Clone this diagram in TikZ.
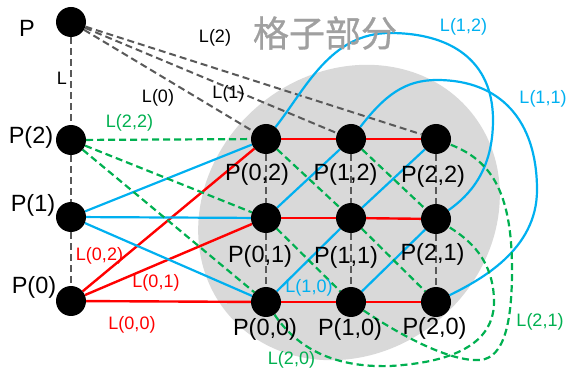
\documentclass[tikz,border=0pt]{standalone}
\usepackage{fontspec}
\setmainfont{Liberation Sans}
\newfontfamily\cjkfont[FakeBold=0.8]{Noto Sans CJK SC}
\pgfdeclarelayer{bgg}
\pgfdeclarelayer{bg}
\pgfsetlayers{bgg,bg,main}
\definecolor{cred}{RGB}{255,0,0}
\definecolor{cblue}{RGB}{0,176,240}
\definecolor{cgreen}{RGB}{0,176,80}
\definecolor{cgray}{RGB}{89,89,89}
\definecolor{cblob}{RGB}{217,217,217}
\definecolor{ctitle}{RGB}{160,160,160}
\begin{document}
\begin{tikzpicture}[x=1pt,y=-1pt,
  dot/.style={circle,fill=black,minimum size=30pt,inner sep=0pt},
  ptlab/.style={inner sep=0pt,font=\fontsize{23.5}{26}\selectfont},
  lab/.style={inner sep=0pt,font=\fontsize{18}{20}\selectfont},
  redl/.style={draw=cred,line width=2.4pt},
  bluel/.style={draw=cblue,line width=2.2pt},
  greenl/.style={draw=cgreen,line width=2.2pt,dash pattern=on 7pt off 4pt},
  grayl/.style={draw=cgray,line width=2pt,dash pattern=on 7pt off 4pt}]
\useasboundingbox (0,0) rectangle (568,374);
% nodes
\node[dot] (P) at (71,22) {};
\node[dot] (P2) at (71,140) {};
\node[dot] (P1) at (71,217) {};
\node[dot] (P0) at (71,301) {};
\node[dot] (P02) at (266,139) {};
\node[dot] (P12) at (351,139) {};
\node[dot] (P22) at (436,139) {};
\node[dot] (P01) at (266,218) {};
\node[dot] (P11) at (351,218) {};
\node[dot] (P21) at (436,219) {};
\node[dot] (P00) at (266,302) {};
\node[dot] (P10) at (351,302) {};
\node[dot] (P20) at (436,302) {};
% gray region and title
\begin{pgfonlayer}{bgg}
\fill[cblob, rotate around={40:(349,212.5)}] (349,212.5) ellipse [x radius=158, y radius=140];
\end{pgfonlayer}
\node[inner sep=0pt,text=ctitle,font=\cjkfont\fontsize{36}{40}\selectfont] (title) at (325,33) {格子部分};
% connectors
\begin{pgfonlayer}{bg}
\draw[grayl] (P) -- (P2);
\draw[grayl] (P2) -- (P1);
\draw[grayl] (P1) -- (P0);
\draw[grayl] (P) -- (P02);
\draw[grayl] (P) -- (P12);
\draw[grayl] (P) -- (P22);
\draw[grayl] (P02) -- (P01);
\draw[grayl] (P01) -- (P00);
\draw[grayl] (P12) -- (P11);
\draw[grayl] (P11) -- (P10);
\draw[grayl] (P22) -- (P21);
\draw[grayl] (P21) -- (P20);
% red
\draw[redl] (P0) -- (P02);
\draw[redl] (P0) -- (P01);
\draw[redl] (P0) -- (P00);
\draw[redl] (P02) -- (P12);
\draw[redl] (P12) -- (P22);
\draw[redl] (P01) -- (P11);
\draw[redl] (P11) -- (P21);
\draw[redl] (P00) -- (P10);
\draw[redl] (P10) -- (P20);
% blue
\draw[bluel] (P1) -- (P02);
\draw[bluel] (P1) -- (P01);
\draw[bluel] (P1) -- (P00);
\draw[bluel] (P00) -- (P11);
\draw[bluel] (P11) -- (P22);
\draw[bluel] (P01) -- (P12);
\draw[bluel] (P10) -- (P21);
\draw[bluel] (P12) .. controls (385,95) and (405,80) .. (437,80) .. controls (500,80) and (537,120) .. (537,190) .. controls (537,250) and (480,280) .. (P20);
\draw[bluel] (P02) .. controls (305,90) and (330,33) .. (390,33) .. controls (450,33) and (493,60) .. (493,120) .. controls (493,170) and (470,195) .. (P21);
% green
\draw[greenl] (P2) -- (P02);
\draw[greenl] (P2) -- (P01);
\draw[greenl] (P2) -- (P00);
\draw[greenl] (P02) -- (P11);
\draw[greenl] (P11) -- (P20);
\draw[greenl] (P01) -- (P10);
\draw[greenl] (P12) -- (P21);
\draw[greenl] (P00) .. controls (295,345) and (330,368) .. (390,366) .. controls (460,362) and (495,340) .. (494,300) .. controls (493,260) and (470,240) .. (P21);
\draw[greenl] (P10) .. controls (400,335) and (450,362) .. (480,360) .. controls (505,358) and (512,320) .. (512,270) .. controls (512,190) and (490,160) .. (P22);
\end{pgfonlayer}
% point labels
\node[ptlab] (lP) at (27,28) {P};
\node[ptlab] (lP2) at (31,137) {P(2)};
\node[ptlab] (lP1) at (33,205) {P(1)};
\node[ptlab] (lP0) at (34,287) {P(0)};
\node[ptlab] (lP02) at (257,174) {P(0,2)};
\node[ptlab] (lP12) at (345.5,174) {P(1,2)};
\node[ptlab] (lP22) at (433,176) {P(2,2)};
\node[ptlab] (lP01) at (260,256) {P(0,1)};
\node[ptlab] (lP11) at (346,257) {P(1,1)};
\node[ptlab] (lP21) at (432.5,254) {P(2,1)};
\node[ptlab] (lP00) at (265,329) {P(0,0)};
\node[ptlab] (lP10) at (350,329) {P(1,0)};
\node[ptlab] (lP20) at (434.5,328) {P(2,0)};
% line labels
\node[lab] (lL) at (62,78.5) {L};
\node[lab] (lL0) at (158,98) {L(0)};
\node[lab] (lL1) at (228.5,94) {L(1)};
\node[lab] (lL2) at (215,37.5) {L(2)};
\node[lab,text=cgreen] (lL22) at (129.5,123) {L(2,2)};
\node[lab,text=cred] (lL02) at (99.5,256) {L(0,2)};
\node[lab,text=cred] (lL01) at (156,283) {L(0,1)};
\node[lab,text=cred] (lL00) at (132,325) {L(0,0)};
\node[lab,text=cblue] (lL10) at (309,288) {L(1,0)};
\node[lab,text=cgreen] (lL20) at (291.5,360) {L(2,0)};
\node[lab,text=cblue] (lL12) at (463.5,27) {L(1,2)};
\node[lab,text=cblue] (lL11) at (543,98.5) {L(1,1)};
\node[lab,text=cgreen] (lL21) at (540,321.5) {L(2,1)};
\end{tikzpicture}
\end{document}
